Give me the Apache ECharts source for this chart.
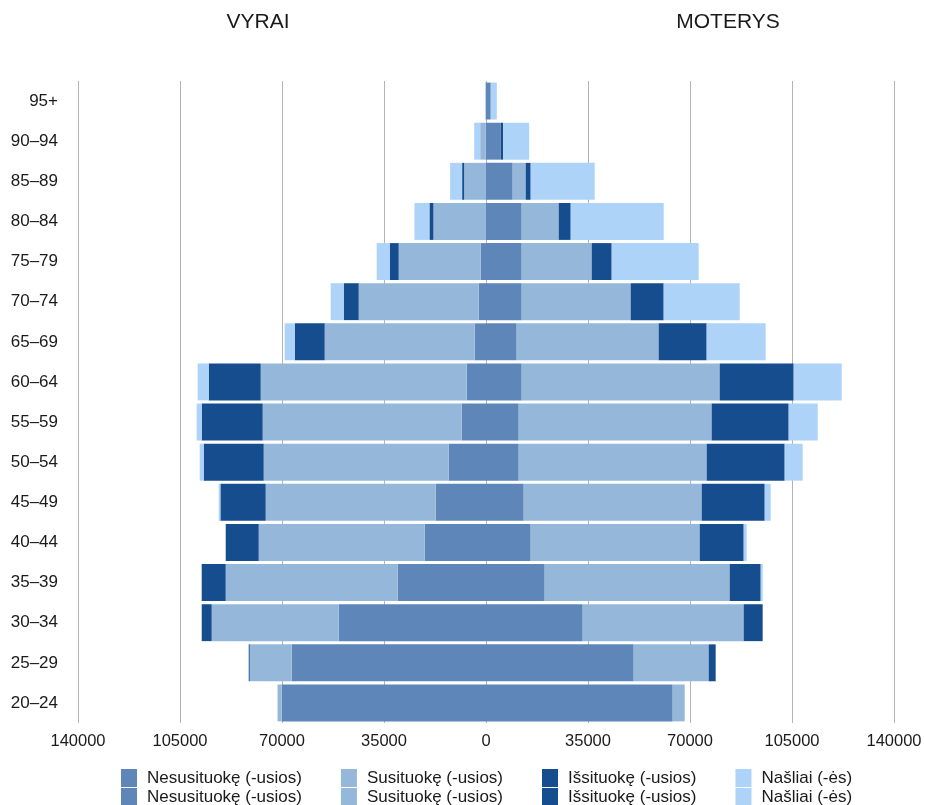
<!DOCTYPE html>
<html>
<head>
<meta charset="utf-8">
<script src="https://cdn.jsdelivr.net/npm/echarts@6/dist/echarts.min.js"></script>
<style>
html,body{margin:0;padding:0;background:#fff;}
#chart{width:925px;height:805px;}
</style>
</head>
<body>
<div id="chart"></div>
<script>
var categories = ['20–24','25–29','30–34','35–39','40–44','45–49','50–54','55–59','60–64','65–69','70–74','75–79','80–84','85–89','90–94','95+'];
var seriesNames = ['Nesusituokę (-usios)','Susituokę (-usios)','Išsituokę (-usios)','Našliai (-ės)'];
var xTicks = [-140000,-105000,-70000,-35000,0,35000,70000,105000,140000];

// VYRAI (men)
var maleNever    = [70100, 66670, 50540, 30300, 21030, 17260, 12800, 8340, 6620, 3880, 2500, 1820, 200, 200, 150, 50];
var maleMarried  = [1370, 14410, 43580, 59020, 56960, 58340, 63480, 68290, 70690, 51470, 41180, 28140, 17840, 7300, 1820, 100];
var maleDivorced = [30, 340, 3430, 8240, 11320, 15540, 20590, 20930, 17840, 10290, 5150, 3090, 1370, 690, 20, 10];
var maleWidowed  = [0, 0, 30, 100, 100, 580, 1370, 1720, 3770, 3430, 4460, 4460, 5150, 4120, 2060, 150];

// MOTERYS (women)
var femaleNever    = [64060, 50680, 33180, 20140, 15340, 12940, 11220, 11220, 12250, 10530, 12250, 12250, 12250, 9160, 4800, 1610];
var femaleMarried  = [4120, 25730, 55240, 63480, 57990, 61080, 64510, 66220, 67940, 48720, 37400, 24020, 12700, 4460, 170, 30];
var femaleDivorced = [0, 2400, 6520, 10640, 15100, 21620, 26760, 26420, 25390, 16470, 11320, 6860, 4120, 1720, 930, 20];
var femaleWidowed  = [0, 0, 0, 690, 1030, 2060, 6180, 9950, 16470, 20240, 26080, 29850, 31910, 21960, 8920, 2060];

var colors = ['#5E86B9', '#95B8DA', '#164D8E', '#AED3F8'];
var FONT = '"Liberation Sans", Arial, sans-serif';

var maleData = [maleNever, maleMarried, maleDivorced, maleWidowed];
var femaleData = [femaleNever, femaleMarried, femaleDivorced, femaleWidowed];

var series = [];
maleData.forEach(function (arr, i) {
  series.push({
    name: seriesNames[i], type: 'bar', stack: 'male',
    barCategoryGap: '8%', barGap: '-100%',
    itemStyle: { color: colors[i] },
    emphasis: { disabled: true },
    data: arr.map(function (v) { return -v; })
  });
});
femaleData.forEach(function (arr, i) {
  series.push({
    name: seriesNames[i], type: 'bar', stack: 'female',
    barCategoryGap: '8%', barGap: '-100%',
    itemStyle: { color: colors[i] },
    emphasis: { disabled: true },
    data: arr.slice()
  });
});

var legendBase = {
  data: seriesNames,
  left: 121,
  orient: 'horizontal',
  padding: 0,
  itemGap: 39,
  itemWidth: 16,
  itemHeight: 18,
  icon: 'rect',
  selectedMode: false,
  textStyle: { fontSize: 17, color: '#1a1a1a', fontFamily: FONT, padding: [0, 0, 0, 5] }
};

var chart = echarts.init(document.getElementById('chart'), null, { renderer: 'canvas' });
chart.setOption({
  animation: false,
  color: colors,
  grid: { left: 78, right: 31, top: 81, bottom: 82, containLabel: false },
  graphic: [
    { type: 'text', x: 258, y: 22, style: { text: 'VYRAI', fontSize: 21, fontFamily: FONT, fill: '#1a1a1a', textAlign: 'center', textVerticalAlign: 'middle' } },
    { type: 'text', x: 728, y: 22, style: { text: 'MOTERYS', fontSize: 21, fontFamily: FONT, fill: '#1a1a1a', textAlign: 'center', textVerticalAlign: 'middle' } }
  ],
  legend: [
    Object.assign({}, legendBase, { top: 769 }),
    Object.assign({}, legendBase, { top: 788 })
  ],
  xAxis: {
    type: 'value',
    min: xTicks[0],
    max: xTicks[xTicks.length - 1],
    interval: 35000,
    axisLine: { show: false },
    axisTick: { show: false },
    splitLine: { show: true, lineStyle: { color: '#b3b3b3', width: 1 } },
    axisLabel: {
      fontSize: 16.5, color: '#1a1a1a', fontFamily: FONT, margin: 10,
      formatter: function (v) { return String(Math.abs(v)); }
    }
  },
  yAxis: {
    type: 'category',
    data: categories,
    axisLine: { show: false },
    axisTick: { show: false },
    splitLine: { show: false },
    axisLabel: { fontSize: 17, color: '#1a1a1a', fontFamily: FONT, margin: 20 }
  },
  series: series
});
</script>
</body>
</html>
